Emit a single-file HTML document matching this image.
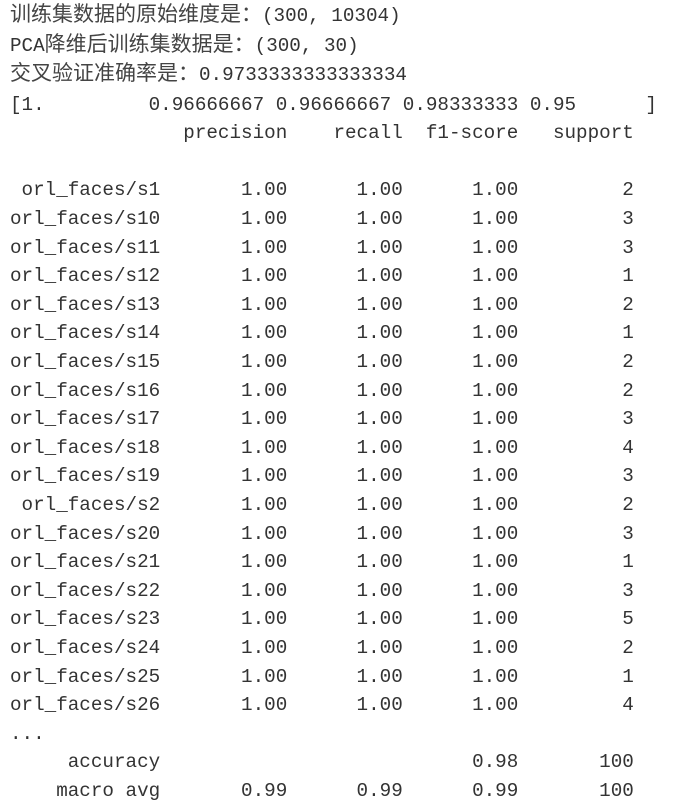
<!DOCTYPE html>
<html><head><meta charset="utf-8"><style>
html,body{margin:0;padding:0;background:#fff;width:694px;height:800px;overflow:hidden}
pre{position:absolute;left:10px;margin:0;font-family:"Liberation Mono",monospace;font-size:19.25px;color:#333;white-space:pre}
#hdr{top:2px;line-height:29.7px}
#tbl{top:119.3px;line-height:28.6px}
.c{font-family:"Noto Sans CJK SC","WenQuanYi Zen Hei",sans-serif;font-size:21px;color:#444;line-height:0}
</style></head><body>
<pre id="hdr"><span class="c">训练集数据的原始维度是：</span>(300, 10304)
PCA<span class="c">降维后训练集数据是：</span>(300, 30)
<span class="c">交叉验证准确率是：</span>0.9733333333333334
[1.         0.96666667 0.96666667 0.98333333 0.95      ]</pre>
<pre id="tbl">               precision    recall  f1-score   support

 orl_faces/s1       1.00      1.00      1.00         2
orl_faces/s10       1.00      1.00      1.00         3
orl_faces/s11       1.00      1.00      1.00         3
orl_faces/s12       1.00      1.00      1.00         1
orl_faces/s13       1.00      1.00      1.00         2
orl_faces/s14       1.00      1.00      1.00         1
orl_faces/s15       1.00      1.00      1.00         2
orl_faces/s16       1.00      1.00      1.00         2
orl_faces/s17       1.00      1.00      1.00         3
orl_faces/s18       1.00      1.00      1.00         4
orl_faces/s19       1.00      1.00      1.00         3
 orl_faces/s2       1.00      1.00      1.00         2
orl_faces/s20       1.00      1.00      1.00         3
orl_faces/s21       1.00      1.00      1.00         1
orl_faces/s22       1.00      1.00      1.00         3
orl_faces/s23       1.00      1.00      1.00         5
orl_faces/s24       1.00      1.00      1.00         2
orl_faces/s25       1.00      1.00      1.00         1
orl_faces/s26       1.00      1.00      1.00         4
...
     accuracy                           0.98       100
    macro avg       0.99      0.99      0.99       100</pre>
</body></html>
